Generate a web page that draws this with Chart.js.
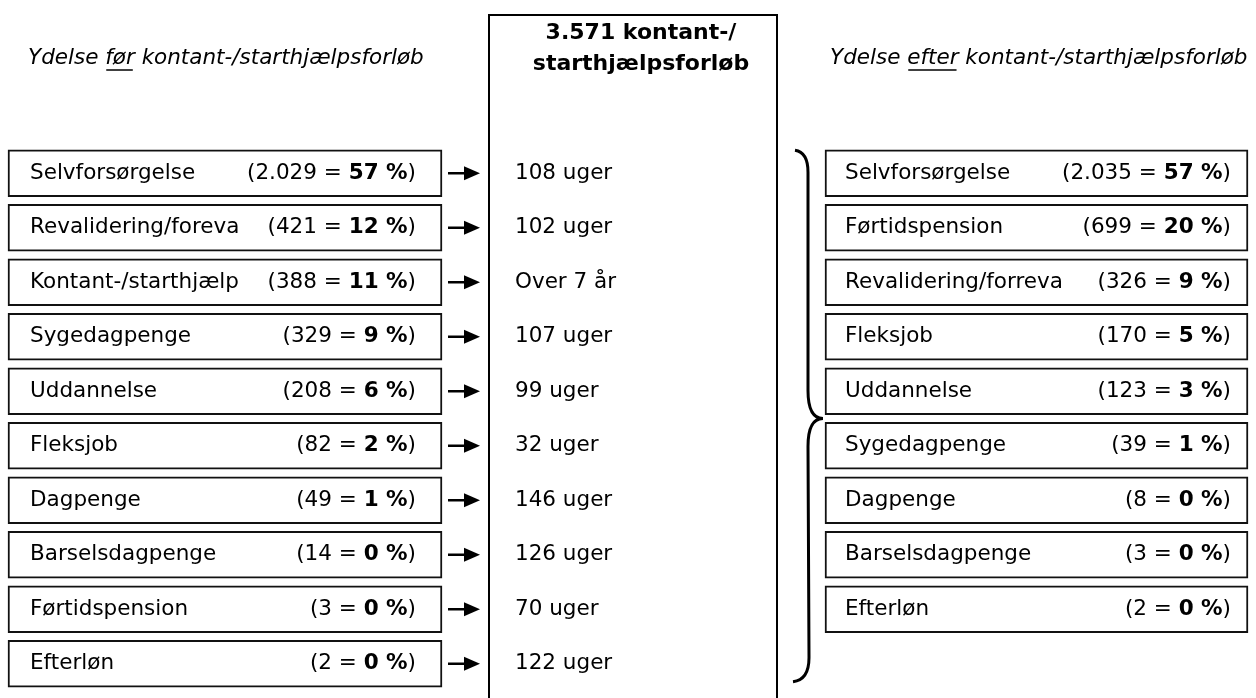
<!DOCTYPE html>
<html lang="da">
<head>
<meta charset="utf-8">
<title>Kontant-/starthjælpsforløb</title>
<script src="https://cdn.jsdelivr.net/npm/chart.js@4/dist/chart.umd.min.js"></script>
<style>
    html, body { margin: 0; padding: 0; background: #fff; }
    #wrap { width: 1256px; height: 698px; position: relative; }
</style>
</head>
<body>
<div id="wrap"><canvas id="chart"></canvas></div>
<script>
// ============= DATA =============

const totalForloeb = 3571;

// Ydelse før forløbet
const beforeLabels = ['Selvforsørgelse', 'Revalidering/foreva', 'Kontant-/starthjælp', 'Sygedagpenge', 'Uddannelse',
                      'Fleksjob', 'Dagpenge', 'Barselsdagpenge', 'Førtidspension', 'Efterløn'];
const beforeCounts = [2029, 421, 388, 329, 208, 82, 49, 14, 3, 2];
const beforePct = [57, 12, 11, 9, 6, 2, 1, 0, 0, 0];
const durationWeeks = [108, 102, null, 107, 99, 32, 146, 126, 70, 122]; // null = over 7 år

// Ydelse efter forløbet
const afterLabels = ['Selvforsørgelse', 'Førtidspension', 'Revalidering/forreva', 'Fleksjob', 'Uddannelse',
                     'Sygedagpenge', 'Dagpenge', 'Barselsdagpenge', 'Efterløn'];
const afterCounts = [2035, 699, 326, 170, 123, 39, 8, 3, 2];
const afterPct = [57, 20, 9, 5, 3, 1, 0, 0, 0];

// ============= LAYOUT =============

const FONT = '"DejaVu Sans", Verdana, sans-serif';
const FS = 21.5;
const INK = '#000';
const LEFT_BOX = [8, 442];
const RIGHT_BOX = [825, 1248];
const rowIds = beforeLabels.map((_, i) => String(i));

// ============= HELPERS =============

function fmtCount(n) {
    return String(n).replace(/\B(?=(\d{3})+(?!\d))/g, '.');
}

function fmtWeeks(w) {
    return w === null ? 'Over 7 år' : w + ' uger';
}

// "(2.029 = 57 %)" med fed procent, højrestillet
function drawValue(ctx, xRight, y, count, pct) {
    const parts = [
        { t: '(' + fmtCount(count) + ' = ', bold: false },
        { t: pct + ' %', bold: true },
        { t: ')', bold: false }
    ];
    let x = xRight;
    for (let i = parts.length - 1; i >= 0; i--) {
        ctx.font = (parts[i].bold ? 'bold ' : '') + FS + 'px ' + FONT;
        x -= ctx.measureText(parts[i].t).width;
        ctx.fillText(parts[i].t, x, y);
    }
}

// Kursiv overskrift med ét understreget ord
function drawTitle(ctx, x, y, pre, under, post) {
    ctx.font = 'italic ' + FS + 'px ' + FONT;
    ctx.fillText(pre, x, y);
    let cx = x + ctx.measureText(pre).width;
    const w = ctx.measureText(under).width;
    ctx.fillText(under, cx, y);
    ctx.lineWidth = 1.5;
    ctx.beginPath();
    ctx.moveTo(cx + 1, y + 12);
    ctx.lineTo(cx + w - 2, y + 12);
    ctx.stroke();
    ctx.fillText(post, cx + w, y);
}

function drawArrow(ctx, x0, x1, y) {
    ctx.lineWidth = 2.5;
    ctx.beginPath();
    ctx.moveTo(x0, y);
    ctx.lineTo(x1 - 12, y);
    ctx.stroke();
    ctx.beginPath();
    ctx.moveTo(x1, y);
    ctx.lineTo(x1 - 16, y - 7);
    ctx.lineTo(x1 - 16, y + 7);
    ctx.closePath();
    ctx.fill();
}

// ============= PLUGIN: tekst, pile, midterboks og klamme =============

const diagramPlugin = {
    id: 'diagram',
    afterDatasetsDraw(chart) {
        const ctx = chart.ctx;
        const xs = chart.scales.x;
        const ys = chart.scales.y;
        ctx.save();
        ctx.fillStyle = INK;
        ctx.strokeStyle = INK;
        ctx.textBaseline = 'middle';
        ctx.textAlign = 'left';

        // Overskrifter
        drawTitle(ctx, xs.getPixelForValue(28), 58, 'Ydelse ', 'før', ' kontant-/starthjælpsforløb');
        drawTitle(ctx, xs.getPixelForValue(830), 58, 'Ydelse ', 'efter', ' kontant-/starthjælpsforløb');

        // Midterboks
        const cl = xs.getPixelForValue(489), cr = xs.getPixelForValue(777);
        ctx.lineWidth = 2;
        ctx.strokeRect(cl, 15, cr - cl, chart.height);
        ctx.font = 'bold 22px ' + FONT;
        ctx.textAlign = 'center';
        ctx.fillText(fmtCount(totalForloeb) + ' kontant-/', 641, 33);
        ctx.fillText('starthjælpsforløb', 641, 64);
        ctx.textAlign = 'left';

        // Venstre kolonne
        beforeLabels.forEach((lab, i) => {
            const y = ys.getPixelForValue(i);
            ctx.font = FS + 'px ' + FONT;
            ctx.fillText(lab, xs.getPixelForValue(30), y);
            drawValue(ctx, xs.getPixelForValue(416), y, beforeCounts[i], beforePct[i]);
            drawArrow(ctx, xs.getPixelForValue(448), xs.getPixelForValue(480), y);
            ctx.font = FS + 'px ' + FONT;
            ctx.fillText(fmtWeeks(durationWeeks[i]), xs.getPixelForValue(515), y);
        });

        // Højre kolonne
        afterLabels.forEach((lab, i) => {
            const y = ys.getPixelForValue(i);
            ctx.font = FS + 'px ' + FONT;
            ctx.fillText(lab, xs.getPixelForValue(845), y);
            drawValue(ctx, xs.getPixelForValue(1231), y, afterCounts[i], afterPct[i]);
        });

        // Klamme
        const top = ys.getPixelForValue(0) - 23;
        const tipY = (ys.getPixelForValue(4) + ys.getPixelForValue(5)) / 2;
        const bot = ys.getPixelForValue(afterLabels.length) + 16;
        const bx = xs.getPixelForValue(808);
        ctx.lineWidth = 3;
        ctx.beginPath();
        ctx.moveTo(bx - 13, top);
        ctx.quadraticCurveTo(bx, top + 2, bx, top + 22);
        ctx.lineTo(bx, tipY - 28);
        ctx.quadraticCurveTo(bx, tipY, bx + 15, tipY);
        ctx.quadraticCurveTo(bx, tipY, bx, tipY + 28);
        ctx.lineTo(bx + 1, bot - 22);
        ctx.quadraticCurveTo(bx + 1, bot, bx - 15, bot + 2);
        ctx.stroke();

        ctx.restore();
    }
};

// ============= CHART =============

const ctx = document.getElementById('chart').getContext('2d');
const chart = new Chart(ctx, {
    type: 'bar',
    data: {
        labels: rowIds,
        datasets: [
            {
                label: 'Før',
                data: beforeLabels.map(() => LEFT_BOX),
                backgroundColor: '#fff',
                borderColor: '#111',
                borderWidth: 2,
                borderSkipped: false,
                barThickness: 47,
                grouped: false
            },
            {
                label: 'Efter',
                data: afterLabels.map(() => RIGHT_BOX),
                backgroundColor: '#fff',
                borderColor: '#111',
                borderWidth: 2,
                borderSkipped: false,
                barThickness: 47,
                grouped: false
            }
        ]
    },
    options: {
        indexAxis: 'y',
        responsive: true,
        maintainAspectRatio: false,
        animation: false,
        layout: { padding: { top: 146, bottom: 7, left: 0, right: 0 } },
        plugins: {
            legend: { display: false },
            tooltip: { enabled: false }
        },
        scales: {
            x: { type: 'linear', min: 0, max: 1256, display: false },
            y: { type: 'category', display: false }
        }
    },
    plugins: [diagramPlugin]
});
</script>
</body>
</html>
